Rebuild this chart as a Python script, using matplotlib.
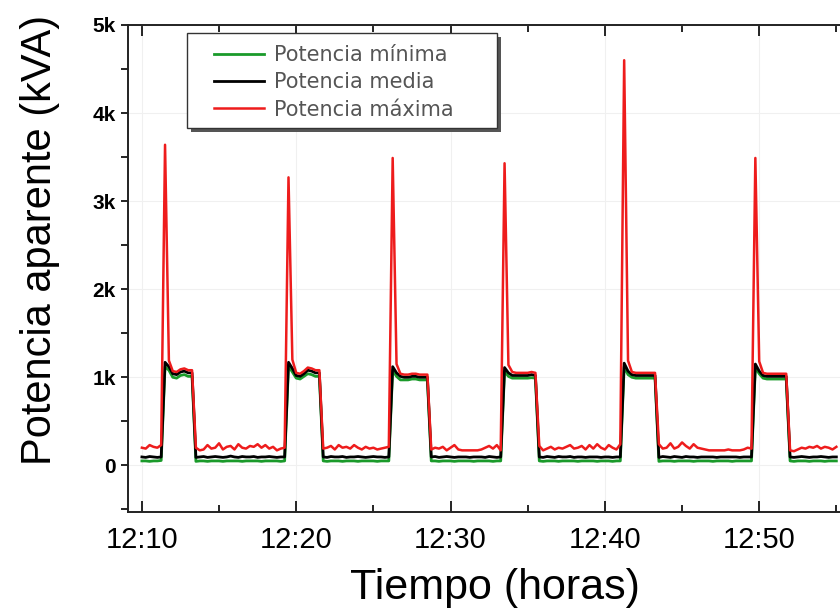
import numpy as np
import matplotlib
matplotlib.use("Agg")
import matplotlib.pyplot as plt
from matplotlib.patches import Rectangle
from matplotlib.ticker import MultipleLocator

# tiempo en minutos despues de las 12:00, muestreo cada 15 s
t_inicio = 10.0
t_paso = 0.25

potencia_minima = [
    50, 50, 45, 50, 50, 55,
    1120, 1080, 1000, 990, 1020, 1030, 1010, 1010,
    45, 50, 50, 45, 50, 50, 50, 45, 50, 50, 50, 50, 45, 50, 50, 50, 50, 45, 50, 50, 50, 50, 45, 50,
    1130, 1060, 990, 980, 1010, 1040, 1030, 1010, 1010,
    50, 45, 50, 50, 50, 45, 50, 50, 50, 45, 50, 50, 50, 50, 45, 50, 50, 50,
    1080, 1010, 970, 970, 970, 980, 980, 970, 970, 970,
    50, 50, 45, 50, 50, 50, 45, 50, 50, 50, 50, 45, 50, 50, 50, 50, 45, 50, 50,
    1070, 1010, 990, 990, 990, 990, 990, 995, 990,
    50, 45, 50, 50, 50, 45, 50, 50, 50, 50, 45, 50, 50, 50, 50, 45, 50, 50, 50, 45, 50, 50,
    1120, 1030, 1000, 990, 990, 990, 990, 990, 990,
    45, 50, 50, 50, 45, 50, 50, 50, 50, 45, 50, 50, 50, 50, 45, 50, 50, 50, 50, 45, 50, 50, 50, 50, 50,
    1110, 1040, 990, 980, 980, 980, 980, 980, 980,
    50, 45, 50, 50, 50, 45, 50, 50, 50, 45, 50, 50, 50,
]

potencia_media = [
    95, 90, 100, 95, 90, 95,
    1170, 1120, 1040, 1030, 1060, 1070, 1050, 1050,
    90, 95, 100, 90, 95, 100, 95, 90, 95, 105, 95, 90, 100, 95, 95, 100, 90, 95, 95, 100, 95, 90, 95, 95,
    1170, 1100, 1020, 1010, 1040, 1080, 1070, 1050, 1050,
    95, 90, 100, 95, 95, 100, 90, 95, 95, 100, 95, 90, 95, 100, 95, 95, 90, 95,
    1120, 1050, 1010, 1000, 1000, 1010, 1010, 1000, 1000, 1000,
    95, 100, 90, 95, 100, 95, 90, 95, 95, 95, 90, 95, 95, 95, 90, 100, 95, 90, 95,
    1110, 1050, 1020, 1020, 1020, 1020, 1020, 1030, 1020,
    95, 90, 100, 95, 90, 100, 95, 95, 100, 90, 95, 95, 90, 95, 95, 95, 90, 95, 95, 90, 95, 95,
    1160, 1070, 1030, 1020, 1020, 1020, 1020, 1020, 1020,
    90, 100, 95, 90, 100, 95, 90, 100, 95, 95, 90, 95, 95, 95, 95, 90, 95, 95, 95, 95, 95, 90, 95, 95, 95,
    1150, 1070, 1020, 1010, 1010, 1010, 1010, 1010, 1010,
    95, 90, 95, 100, 95, 90, 95, 95, 100, 95, 90, 95, 95,
]

potencia_maxima = [
    200, 190, 230, 210, 200, 230,
    3640, 1190, 1070, 1060, 1090, 1100, 1080, 1080,
    200, 170, 180, 230, 190, 200, 250, 180, 210, 220, 180, 240, 200, 190, 220, 210, 240, 200, 230, 190, 210, 170, 190, 200,
    3270, 1200, 1050, 1040, 1070, 1110, 1100, 1080, 1080,
    190, 200, 220, 180, 230, 200, 210, 190, 230, 200, 180, 210, 190, 200, 180, 190, 200, 210,
    3490, 1150, 1040, 1030, 1030, 1040, 1040, 1030, 1030, 1030,
    180, 200, 190, 210, 170, 200, 230, 180, 170, 170, 170, 170, 170, 180, 200, 220, 190, 230, 170,
    3430, 1140, 1060, 1050, 1050, 1050, 1050, 1060, 1050,
    220, 170, 190, 210, 180, 200, 190, 210, 230, 190, 200, 220, 180, 230, 190, 240, 200, 180, 230, 200, 180, 240,
    4600, 1190, 1060, 1050, 1050, 1050, 1050, 1050, 1050,
    240, 190, 200, 250, 190, 210, 260, 220, 190, 240, 200, 190, 180, 170, 170, 170, 170, 170, 180, 170, 170, 170, 180, 200, 190,
    3490, 1180, 1050, 1040, 1040, 1040, 1040, 1040, 1040,
    170, 160, 180, 200, 190, 210, 200, 220, 190, 210, 200, 180, 210,
]

ticks_x = [10, 20, 30, 40, 50]
etiquetas_x = ["12:10", "12:20", "12:30", "12:40", "12:50"]
ticks_y = [0, 1000, 2000, 3000, 4000, 5000]
etiquetas_y = ["0", "1k", "2k", "3k", "4k", "5k"]


def main():
    minutos = t_inicio + t_paso * np.arange(len(potencia_maxima))

    fig = plt.figure(figsize=(8.4, 6.12), dpi=100)
    ax = fig.add_axes([128 / 840, 1 - 512 / 612, 713 / 840, 487 / 612])

    ax.plot(minutos, potencia_minima, color="#1a9a2a", lw=2.0, label="Potencia mínima")
    ax.plot(minutos, potencia_media, color="black", lw=2.0, label="Potencia media")
    ax.plot(minutos, potencia_maxima, color="#ee1c1c", lw=1.8, label="Potencia máxima")

    ax.set_xlim(9.1, 55.3)
    ax.set_ylim(-530, 5000)

    ax.set_xticks(ticks_x)
    ax.set_xticklabels(etiquetas_x, family="Liberation Sans", fontsize=21)
    ax.xaxis.set_minor_locator(MultipleLocator(5))
    ax.set_yticks(ticks_y)
    ax.set_yticklabels(etiquetas_y, family="Liberation Sans", fontsize=15, fontweight="bold")
    ax.yaxis.set_minor_locator(MultipleLocator(500))

    ax.tick_params(axis="x", which="both", direction="in", top=True, pad=10)
    ax.tick_params(axis="x", which="major", length=8, width=1.2)
    ax.tick_params(axis="x", which="minor", length=5, width=1.2)
    ax.tick_params(axis="y", which="both", direction="out", length=5, width=1.2, pad=4)

    ax.grid(True, which="major", color="#f0f0f0", lw=0.8)
    ax.set_axisbelow(True)
    for spine in ax.spines.values():
        spine.set_linewidth(1.4)
        spine.set_color("#222222")

    # caja de la leyenda con sombra, en pixeles de la figura
    caja = (187 / 840, 1 - 128 / 612, 310 / 840, 95 / 612)
    sombra = Rectangle((caja[0] + 4 / 840, caja[1] - 4 / 612), caja[2], caja[3],
                       transform=fig.transFigure, facecolor="#555555", edgecolor="none",
                       zorder=4, clip_on=False)
    marco = Rectangle(caja[:2], caja[2], caja[3], transform=fig.transFigure,
                      facecolor="white", edgecolor="#333333", lw=1.0, zorder=4.5, clip_on=False)
    ax.add_patch(sombra)
    ax.add_patch(marco)

    leg = ax.legend(loc="upper left", bbox_to_anchor=(214 / 840, 1 - 45 / 612),
                    bbox_transform=fig.transFigure, frameon=False,
                    prop={"family": "DejaVu Sans", "size": 15},
                    handlelength=2.4, labelspacing=0.35, borderpad=0.0, handletextpad=0.5,
                    borderaxespad=0)
    leg.set_zorder(5)
    for txt in leg.get_texts():
        txt.set_color("#555555")

    fig.text(40 / 840, 1 - 240 / 612, "Potencia aparente (kVA)", rotation=90,
             ha="center", va="center", family="Liberation Sans", fontsize=30)
    fig.text(495 / 840, 1 - 588 / 612, "Tiempo (horas)", ha="center", va="center",
             family="Liberation Sans", fontsize=31)

    fig.savefig("out.png", dpi=100)
    plt.close(fig)


if __name__ == "__main__":
    main()
